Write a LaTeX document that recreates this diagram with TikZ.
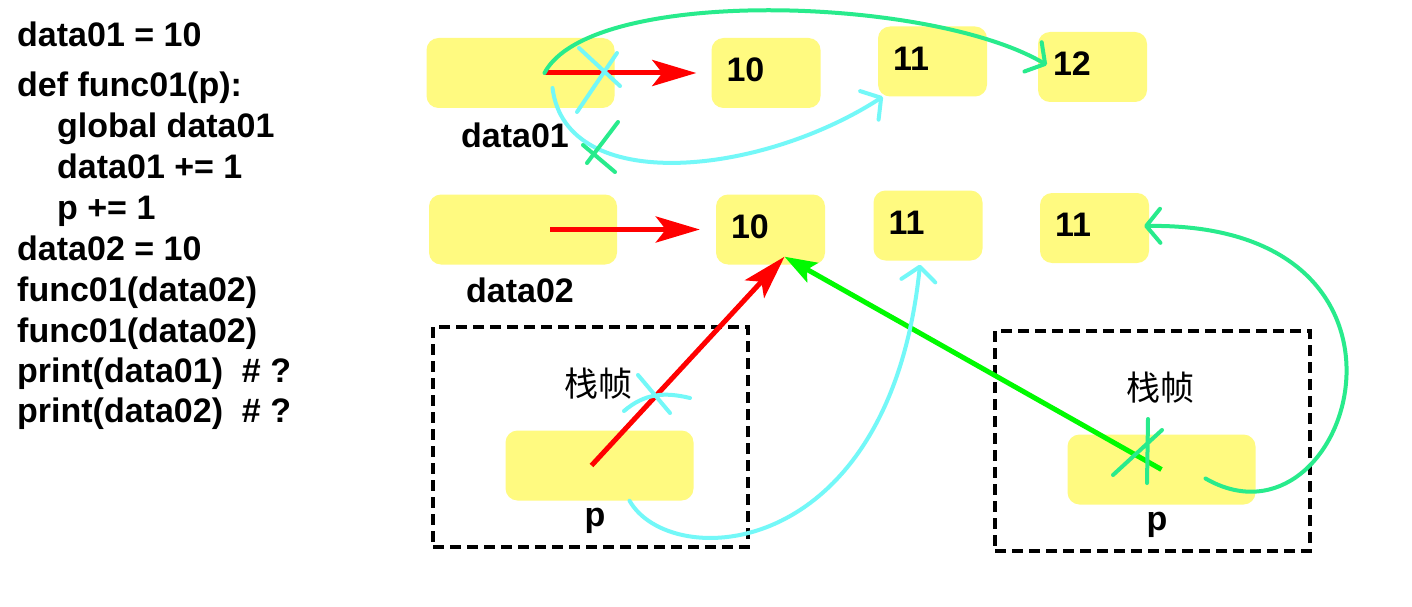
\documentclass[tikz,border=0pt]{standalone}
\usepackage{fontspec}
\setmainfont{Liberation Sans}
\newfontfamily\cjk{Noto Sans CJK SC}
\usetikzlibrary{arrows.meta}

\definecolor{boxyellow}{RGB}{255,250,128}
\definecolor{inkred}{RGB}{255,0,0}
\definecolor{inkgreen}{RGB}{0,250,0}
\definecolor{penteal}{RGB}{40,235,140}
\definecolor{pencyan}{RGB}{115,248,248}

\tikzset{
  codeline/.style={font=\fontsize{34}{40}\selectfont\bfseries, anchor=base west, inner sep=0pt},
  varbox/.style={fill=boxyellow, rounded corners=12pt, minimum width=188pt, minimum height=70pt},
  valbox/.style={fill=boxyellow, rounded corners=12pt, minimum width=109pt, minimum height=70pt,
    text width=79pt, inner xsep=15pt, inner ysep=0pt, text depth=6pt, align=left,
    font=\fontsize{34}{40}\selectfont\bfseries},
  varname/.style={font=\fontsize{34}{40}\selectfont\bfseries, anchor=base, inner sep=0pt},
  stackframe/.style={draw=black, line width=4pt, dash pattern=on 11pt off 6pt,
    minimum width=315pt, minimum height=220pt},
  stackname/.style={font={\cjk\fontsize{34}{40}\selectfont}, inner sep=0pt},
  redarrow/.style={draw=inkred, line width=5pt, -{Stealth[length=44pt,width=26pt,inset=10pt]}},
  greenarrow/.style={draw=inkgreen, line width=5pt, -{Stealth[length=32pt,width=22pt,inset=6pt]}},
  cyanpen/.style={draw=pencyan, line width=4pt, line cap=round, line join=round},
  greenpen/.style={draw=penteal, line width=4pt, line cap=round, line join=round},
  penhead/.style={-{Straight Barb[length=14pt,width=34pt,round]}}
}

\begin{document}
\begin{tikzpicture}[x=1pt,y=-1pt]
  \fill[white] (0,0) rectangle (1412,607);
  \useasboundingbox (0,0) rectangle (1412,607);

  % code
  \foreach \i/\x/\y/\txt in {1/17/47/{data01 = 10}, 2/17/97/{def func01(p):},
      3/57/137/{global data01}, 4/57/178/{data01 += 1}, 5/57/219/{p += 1},
      6/17/260/{data02 = 10}, 7/17/301/{func01(data02)}, 8/17/342/{func01(data02)},
      9/17/382/{print(data01)\ \ \# ?}, 10/17/422/{print(data02)\ \ \# ?}}
    \node[codeline] (code\i) at (\x,\y) {\txt};

  % variables
  \node[varbox] (d01) at (520.5,73) {};
  \node[varbox] (d02) at (523,229.5) {};
  \node[varname] (d01name) at (515,147) {data01};
  \node[varname] (d02name) at (520,302) {data02};

  % values
  \node[valbox] (v10a) at (766,73) {10};
  \node[valbox] (v11a) at (932.5,61.5) {11};
  \node[valbox] (v12) at (1092.5,67) {12};
  \node[valbox] (v10b) at (770.5,229.5) {10};
  \node[valbox] (v11b) at (928,225.5) {11};
  \node[valbox] (v11c) at (1094.5,228) {11};

  % stack frames
  \node[stackframe] (f1) at (590.5,437) {};
  \node[stackframe] (f2) at (1152.5,441) {};
  \node[stackname] (f1name) at (598,384) {栈帧};
  \node[stackname] (f2name) at (1160,388) {栈帧};
  \node[varbox] (p1) at (599.5,465.5) {};
  \node[varbox] (p2) at (1161.5,469.5) {};
  \node[varname] (p1name) at (595,526) {p};
  \node[varname] (p2name) at (1157,530) {p};

  \coordinate (d01a) at ([xshift=24pt]d01.center);
  \coordinate (d01b) at ([xshift=32pt,yshift=-15pt]d01.center);
  \coordinate (d02a) at ([xshift=27pt]d02.center);
  \coordinate (p1a) at ([xshift=-8pt]p1.center);
  \coordinate (p1b) at ([xshift=30pt]p1.south);
  \coordinate (p2b) at ([xshift=44pt,yshift=-9pt]p2.center);
  \coordinate (hit) at ([xshift=14pt,yshift=8pt]v10b.south);

  % references
  \draw[redarrow] (d01a) -- ([xshift=-15pt]v10a.west);
  \draw[redarrow] (d02a) -- ([xshift=-16pt]v10b.west);
  \draw[redarrow] (p1a) -- (hit);
  \draw[greenarrow] (p2.center) -- (hit);

  % hand drawn rebinding
  \draw[greenpen, penhead] (d01a) .. controls (590,-14) and (930,-4) .. ([xshift=9pt,yshift=2pt]v12.west);
  \draw[cyanpen, penhead] (d01b) .. controls (566,196) and (760,176) .. ([xshift=5pt]v11a.south west);
  \draw[cyanpen, penhead] (p1b) .. controls (670,572) and (889,564) .. ([xshift=-8pt,yshift=-4pt]v11b.south);
  \draw[greenpen, penhead] (p2b) .. controls (1350,562) and (1455,222) .. ([xshift=-5pt,yshift=2pt]v11c.east);

  % crossed out
  \draw[cyanpen] (579,48) -- (620,86) (617,53) -- (577,112);
  \draw[greenpen] (618,122) -- (587,163) (583,145) -- (615,172);
  \draw[cyanpen] (638,375) -- (670,413) (624,411) .. controls (645,393) and (665,392) .. (690,398);
  \draw[greenpen] (1148,419) -- (1147,483) (1113,475) -- (1162,430);
\end{tikzpicture}
\end{document}
